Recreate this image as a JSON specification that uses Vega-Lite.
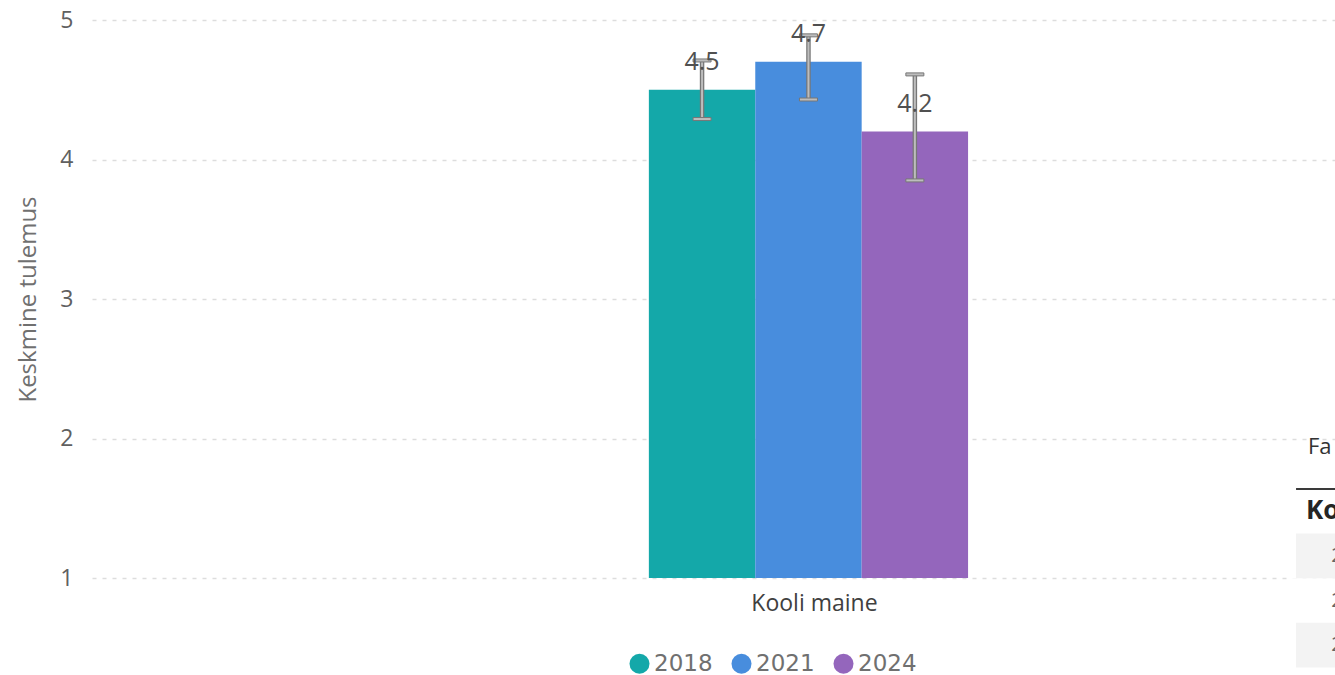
{
  "$schema": "https://vega.github.io/schema/vega-lite/v6.json",
  "width": 1243,
  "height": 558,
  "autosize": {"type": "none"},
  "padding": {"left": 92, "top": 20, "right": 0, "bottom": 97},
  "background": "white",
  "config": {"view": {"stroke": null}, "font": "Open Sans"},
  "datasets": {
    "bars": [
      {"cat": "Kooli maine", "year": "2018", "value": 4.5, "lo": 4.29, "hi": 4.71},
      {"cat": "Kooli maine", "year": "2021", "value": 4.7, "lo": 4.43, "hi": 4.89},
      {"cat": "Kooli maine", "year": "2024", "value": 4.2, "lo": 3.85, "hi": 4.61}
    ],
    "table": [
      {"row": "title", "label": "Fa"},
      {"row": "header", "label": "Ko"},
      {"row": "2018", "label": "2018"},
      {"row": "2021", "label": "2021"},
      {"row": "2024", "label": "2024"}
    ]
  },
  "layer": [
    {
      "data": {"name": "bars"},
      "encoding": {
        "x": {
          "field": "cat", "type": "nominal",
          "scale": {"paddingInner": 0, "paddingOuter": 1, "align": 0.6146},
          "axis": {"title": null, "domain": false, "ticks": false, "labelAngle": 0, "labelFontSize": 23, "labelColor": "#404040", "labelPadding": 14, "labelOffset": 6}
        },
        "xOffset": {"field": "year", "type": "nominal", "scale": {"paddingInner": 0, "paddingOuter": 0.447}}
      },
      "layer": [
        {
          "mark": {"type": "bar"},
          "encoding": {
            "y": {
              "field": "value", "type": "quantitative",
              "scale": {"domain": [1, 5], "zero": false, "nice": false},
              "axis": {"values": [1, 2, 3, 4, 5], "format": "d", "title": "Keskmine tulemus", "titleFontSize": 24, "titleFontWeight": "normal", "titleColor": "#707070", "titlePadding": 19, "labelFontSize": 23, "labelColor": "#606060", "labelPadding": 19, "domain": false, "ticks": false, "grid": true, "gridDash": [4, 6], "gridColor": "#dddddd", "gridWidth": 1.5}
            },
            "y2": {"datum": 1},
            "color": {
              "field": "year", "type": "nominal",
              "scale": {"domain": ["2018", "2021", "2024"], "range": ["#14A8A9", "#488DDD", "#9466BC"]},
              "legend": {"orient": "none", "legendX": 536, "legendY": 632, "direction": "horizontal", "title": null, "symbolType": "circle", "symbolSize": 400, "symbolStrokeWidth": 0, "labelFont": "DejaVu Sans", "labelFontSize": 23, "labelColor": "#707070", "labelOffset": 3, "columnPadding": 17, "padding": 0}
            }
          }
        },
        {
          "mark": {"type": "rule", "color": "#777777", "strokeWidth": 4.5},
          "encoding": {"y": {"field": "lo", "type": "quantitative"}, "y2": {"field": "hi"}}
        },
        {
          "mark": {"type": "rule", "color": "#bdbdbd", "strokeWidth": 2},
          "encoding": {"y": {"field": "lo", "type": "quantitative"}, "y2": {"field": "hi"}}
        },
        {
          "mark": {"type": "tick", "thickness": 3, "size": 18, "fill": "#bdbdbd", "stroke": "#777777", "strokeWidth": 1, "opacity": 1, "filled": true},
          "encoding": {"y": {"field": "lo", "type": "quantitative"}}
        },
        {
          "mark": {"type": "tick", "thickness": 3, "size": 18, "fill": "#bdbdbd", "stroke": "#777777", "strokeWidth": 1, "opacity": 1, "filled": true},
          "encoding": {"y": {"field": "hi", "type": "quantitative"}}
        },
        {
          "mark": {"type": "text", "baseline": "bottom", "dy": -15, "fontSize": 25, "color": "#505050"},
          "encoding": {"y": {"field": "value", "type": "quantitative"}, "text": {"field": "value", "type": "quantitative", "format": ".1f"}}
        }
      ]
    },
    {
      "data": {"name": "table"},
      "layer": [
        {
          "mark": {"type": "rect", "color": "white"},
          "encoding": {
            "x": {"datum": 0, "type": "quantitative", "scale": {"domain": [0, 1], "range": [1198, 1440], "zero": false, "nice": false}, "axis": null},
            "x2": {"datum": 1},
            "y": {"field": "row", "type": "nominal", "scale": {"domain": ["title", "header", "2018", "2021", "2024"], "range": [424.4, 647.4], "paddingInner": 0, "paddingOuter": 0}, "axis": null}
          }
        },
        {
          "transform": [{"filter": "datum.row == '2018' || datum.row == '2024'"}],
          "mark": {"type": "rect", "color": "#f3f3f3"},
          "encoding": {
            "x": {"datum": 0.025, "type": "quantitative", "scale": {"domain": [0, 1], "range": [1198, 1440], "zero": false, "nice": false}, "axis": null},
            "x2": {"datum": 1},
            "y": {"field": "row", "type": "nominal", "scale": {"domain": ["title", "header", "2018", "2021", "2024"], "range": [424.4, 647.4], "paddingInner": 0, "paddingOuter": 0}, "axis": null}
          }
        },
        {
          "transform": [{"filter": "datum.row == 'header'"}],
          "mark": {"type": "rule", "color": "#3a3a3a", "strokeWidth": 2},
          "encoding": {
            "x": {"datum": 0.025, "type": "quantitative", "scale": {"domain": [0, 1], "range": [1198, 1440], "zero": false, "nice": false}, "axis": null},
            "x2": {"datum": 1},
            "y": {"field": "row", "type": "nominal", "bandPosition": 0, "scale": {"domain": ["title", "header", "2018", "2021", "2024"], "range": [424.4, 647.4], "paddingInner": 0, "paddingOuter": 0}, "axis": null}
          }
        },
        {
          "transform": [{"filter": "datum.row == 'title'"}],
          "mark": {"type": "text", "align": "left", "baseline": "middle", "dy": -20, "fontSize": 22, "color": "#333333"},
          "encoding": {
            "x": {"datum": 0.074, "type": "quantitative", "scale": {"domain": [0, 1], "range": [1198, 1440], "zero": false, "nice": false}, "axis": null},
            "y": {"field": "row", "type": "nominal", "scale": {"domain": ["title", "header", "2018", "2021", "2024"], "range": [424.4, 647.4], "paddingInner": 0, "paddingOuter": 0}, "axis": null},
            "text": {"field": "label"}
          }
        },
        {
          "transform": [{"filter": "datum.row == 'header'"}],
          "mark": {"type": "text", "align": "left", "baseline": "middle", "fontSize": 26, "fontWeight": "bold", "color": "#252525"},
          "encoding": {
            "x": {"datum": 0.066, "type": "quantitative", "scale": {"domain": [0, 1], "range": [1198, 1440], "zero": false, "nice": false}, "axis": null},
            "y": {"field": "row", "type": "nominal", "scale": {"domain": ["title", "header", "2018", "2021", "2024"], "range": [424.4, 647.4], "paddingInner": 0, "paddingOuter": 0}, "axis": null},
            "text": {"field": "label"}
          }
        },
        {
          "transform": [{"filter": "datum.row != 'header' && datum.row != 'title'"}],
          "mark": {"type": "text", "align": "left", "baseline": "middle", "fontSize": 20, "color": "#666666"},
          "encoding": {
            "x": {"datum": 0.17, "type": "quantitative", "scale": {"domain": [0, 1], "range": [1198, 1440], "zero": false, "nice": false}, "axis": null},
            "y": {"field": "row", "type": "nominal", "scale": {"domain": ["title", "header", "2018", "2021", "2024"], "range": [424.4, 647.4], "paddingInner": 0, "paddingOuter": 0}, "axis": null},
            "text": {"field": "label"}
          }
        }
      ]
    }
  ],
  "resolve": {"scale": {"x": "independent", "y": "independent"}}
}
